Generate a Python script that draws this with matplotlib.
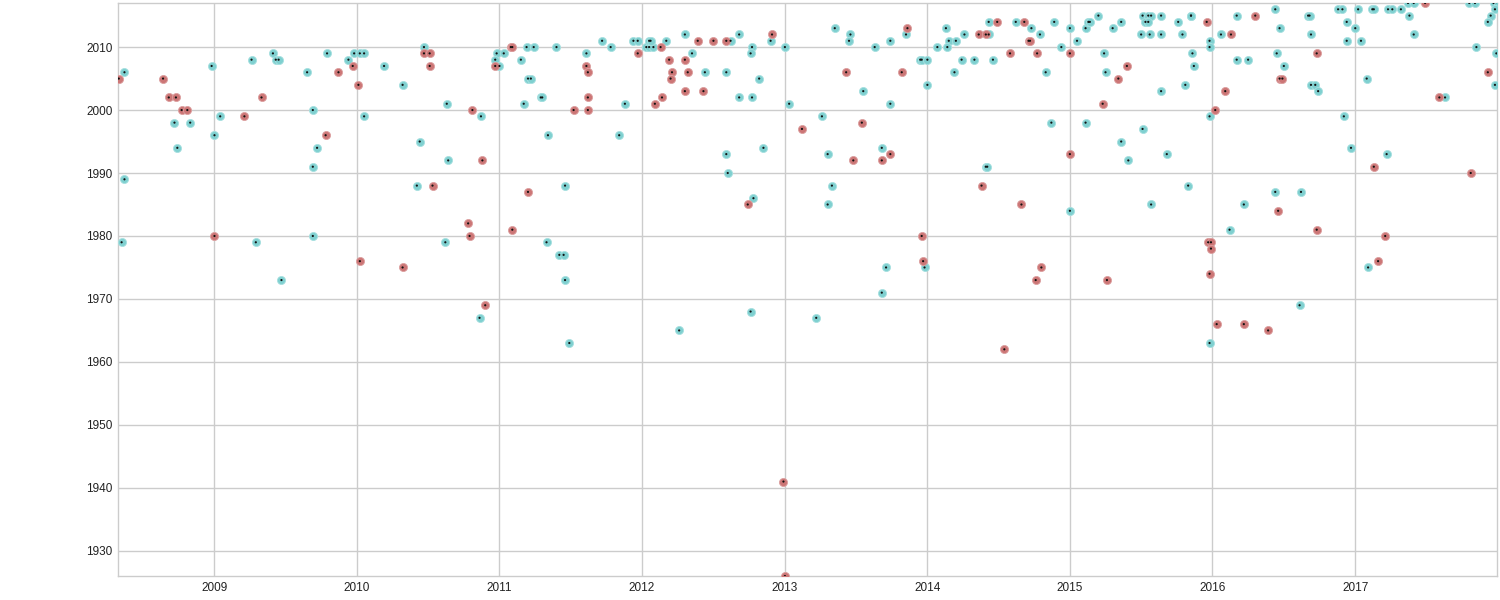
import numpy as np
import pandas as pd
import matplotlib
matplotlib.use("Agg")
import matplotlib.pyplot as plt
import matplotlib.dates as mdates

plt.rcParams['font.family'] = ['Liberation Sans', 'DejaVu Sans']

# decimal date (x) and year value (y)
teal_x = [2008.37, 2008.37, 2008.35, 2008.72, 2008.83, 2008.74, 2008.98, 2009.00, 2009.04, 2009.26,
          2009.29, 2009.41, 2009.43, 2009.45, 2009.47, 2009.65, 2009.69, 2009.72, 2009.69, 2009.69,
          2009.79, 2009.94, 2009.98, 2010.02, 2010.05, 2010.05, 2010.19, 2010.32, 2010.44, 2010.42,
          2010.47, 2010.63, 2010.64, 2010.62, 2010.87, 2010.86, 2010.98, 2011.03, 2010.97, 2011.00,
          2011.19, 2011.24, 2011.40, 2011.15, 2011.20, 2011.22, 2011.29, 2011.30, 2011.17, 2011.34,
          2011.46, 2011.33, 2011.42, 2011.45, 2011.46, 2011.49, 2011.72, 2011.78, 2011.61, 2011.88,
          2011.84, 2011.94, 2011.97, 2012.03, 2012.05, 2012.08, 2012.05, 2012.06, 2012.17, 2012.30,
          2012.35, 2012.44, 2012.62, 2012.68, 2012.59, 2012.68, 2012.77, 2012.77, 2012.76, 2012.82,
          2012.90, 2013.00, 2013.03, 2012.85, 2012.59, 2012.60, 2012.78, 2012.26, 2012.76, 2013.35,
          2013.46, 2013.45, 2013.63, 2013.74, 2013.85, 2013.55, 2013.74, 2013.26, 2013.30, 2013.68,
          2013.33, 2013.30, 2013.95, 2013.96, 2014.00, 2014.00, 2013.98, 2013.71, 2013.68, 2013.22,
          2014.07, 2014.13, 2014.15, 2014.20, 2014.14, 2014.26, 2014.24, 2014.33, 2014.19, 2014.46,
          2014.43, 2014.43, 2014.62, 2014.73, 2014.79, 2014.41, 2014.42, 2014.89, 2014.94, 2015.00,
          2015.05, 2014.83, 2014.87, 2015.00, 2015.11, 2015.13, 2015.14, 2015.20, 2015.30, 2015.36,
          2015.24, 2015.25, 2015.11, 2015.36, 2015.41, 2015.51, 2015.55, 2015.57, 2015.53, 2015.55,
          2015.64, 2015.50, 2015.56, 2015.64, 2015.64, 2015.51, 2015.68, 2015.57, 2015.76, 2015.85,
          2015.85, 2015.79, 2015.86, 2015.87, 2015.81, 2015.83, 2015.98, 2015.98, 2015.98, 2016.06,
          2016.17, 2016.17, 2016.25, 2016.22, 2016.12, 2015.98, 2016.61, 2016.44, 2016.47, 2016.45,
          2016.50, 2016.44, 2016.62, 2016.67, 2016.68, 2016.69, 2016.69, 2016.72, 2016.74, 2016.88,
          2016.91, 2016.94, 2016.94, 2017.00, 2017.02, 2017.04, 2016.92, 2016.97, 2017.08, 2017.22,
          2017.09, 2017.12, 2017.13, 2017.23, 2017.26, 2017.32, 2017.37, 2017.41, 2017.38, 2017.41,
          2017.63, 2017.80, 2017.84, 2017.85, 2017.97, 2018.00, 2017.98, 2017.95, 2017.93, 2017.99,
          2017.98]
teal_y = [2006, 1989, 1979, 1998, 1998, 1994, 2007, 1996, 1999, 2008,
          1979, 2009, 2008, 2008, 1973, 2006, 2000, 1994, 1991, 1980,
          2009, 2008, 2009, 2009, 2009, 1999, 2007, 2004, 1995, 1988,
          2010, 2001, 1992, 1979, 1999, 1967, 2009, 2009, 2008, 2007,
          2010, 2010, 2010, 2008, 2005, 2005, 2002, 2002, 2001, 1996,
          1988, 1979, 1977, 1977, 1973, 1963, 2011, 2010, 2009, 2001,
          1996, 2011, 2011, 2010, 2010, 2010, 2011, 2011, 2011, 2012,
          2009, 2006, 2011, 2012, 2006, 2002, 2002, 2010, 2009, 2005,
          2011, 2010, 2001, 1994, 1993, 1990, 1986, 1965, 1968, 2013,
          2012, 2011, 2010, 2011, 2012, 2003, 2001, 1999, 1993, 1994,
          1988, 1985, 2008, 2008, 2008, 2004, 1975, 1975, 1971, 1967,
          2010, 2013, 2011, 2011, 2010, 2012, 2008, 2008, 2006, 2008,
          2012, 2014, 2014, 2013, 2012, 1991, 1991, 2014, 2010, 2013,
          2011, 2006, 1998, 1984, 2013, 2014, 2014, 2015, 2013, 2014,
          2009, 2006, 1998, 1995, 1992, 2015, 2015, 2015, 2014, 2014,
          2015, 2012, 2012, 2012, 2003, 1997, 1993, 1985, 2014, 2015,
          2015, 2012, 2009, 2007, 2004, 1988, 2011, 2010, 1999, 2012,
          2015, 2008, 2008, 1985, 1981, 1963, 1969, 2016, 2013, 2009,
          2007, 1987, 1987, 2015, 2015, 2012, 2004, 2004, 2003, 2016,
          2016, 2014, 2011, 2013, 2016, 2011, 1999, 1994, 2005, 1993,
          1975, 2016, 2016, 2016, 2016, 2016, 2017, 2017, 2015, 2012,
          2002, 2017, 2017, 2010, 2017, 2017, 2016, 2015, 2014, 2009,
          2004]

red_x = [2008.33, 2008.64, 2008.68, 2008.73, 2008.77, 2008.81, 2009.00, 2009.33, 2009.21, 2009.78,
         2009.87, 2009.97, 2010.01, 2010.02, 2010.32, 2010.53, 2010.47, 2010.51, 2010.51, 2010.81,
         2010.88, 2010.78, 2010.79, 2010.90, 2010.97, 2011.08, 2011.09, 2011.52, 2011.09, 2011.20,
         2011.61, 2011.62, 2011.62, 2011.62, 2011.97, 2012.13, 2012.19, 2012.21, 2012.20, 2012.14,
         2012.09, 2012.30, 2012.32, 2012.30, 2012.39, 2012.43, 2012.50, 2012.59, 2012.91, 2013.12,
         2012.74, 2012.99, 2013.00, 2013.86, 2013.43, 2013.82, 2013.54, 2013.48, 2013.74, 2013.68,
         2013.96, 2013.97, 2014.36, 2014.41, 2014.49, 2014.68, 2014.71, 2014.72, 2014.58, 2014.77,
         2014.38, 2014.66, 2014.76, 2014.80, 2014.54, 2015.00, 2015.00, 2015.40, 2015.34, 2015.23,
         2015.26, 2015.96, 2016.02, 2016.09, 2016.13, 2016.30, 2015.97, 2015.99, 2015.99, 2015.98,
         2016.03, 2016.22, 2016.39, 2016.47, 2016.49, 2016.46, 2016.73, 2016.73, 2017.13, 2017.21,
         2017.16, 2017.49, 2017.59, 2017.81, 2017.93]
red_y = [2005, 2005, 2002, 2002, 2000, 2000, 1980, 2002, 1999, 1996,
         2006, 2007, 2004, 1976, 1975, 1988, 2009, 2009, 2007, 2000,
         1992, 1982, 1980, 1969, 2007, 2010, 2010, 2000, 1981, 1987,
         2007, 2006, 2002, 2000, 2009, 2010, 2008, 2006, 2005, 2002,
         2001, 2008, 2006, 2003, 2011, 2003, 2011, 2011, 2012, 1997,
         1985, 1941, 1926, 2013, 2006, 2006, 1998, 1992, 1993, 1992,
         1980, 1976, 2012, 2012, 2014, 2014, 2011, 2011, 2009, 2009,
         1988, 1985, 1973, 1975, 1962, 2009, 1993, 2007, 2005, 2001,
         1973, 2014, 2000, 2003, 2012, 2015, 1979, 1979, 1978, 1974,
         1966, 1966, 1965, 2005, 2005, 1984, 1981, 2009, 1991, 1980,
         1976, 2017, 2002, 1990, 2006]


def to_dates(dec):
    out = []
    for d in dec:
        yr = int(np.floor(d))
        start = pd.Timestamp(yr, 1, 1)
        end = pd.Timestamp(yr + 1, 1, 1)
        out.append(start + (end - start) * (d - yr))
    return out


teal_dates = to_dates(teal_x)
red_dates = to_dates(red_x)

fig = plt.figure(figsize=(15, 6), dpi=100)
ax = fig.add_axes([0.0787, 0.04, 0.9193, 0.955])

grid_col = "#cccccc"
ax.scatter(teal_dates, teal_y, s=34, color="#7fd0d0", edgecolors="#a8e0e0", linewidths=0.6, zorder=3)
ax.scatter(red_dates, red_y, s=34, color="#cc7676", edgecolors="#dca0a0", linewidths=0.6, zorder=3)
ax.scatter(teal_dates + red_dates, teal_y + red_y, s=2.5, color="#111111", edgecolors="none", zorder=4)

ax.set_xlim(pd.Timestamp("2008-04-29"), pd.Timestamp("2017-12-30"))
ax.set_ylim(1926, 2017)
ax.set_yticks(range(1930, 2011, 10))
ax.xaxis.set_major_locator(mdates.YearLocator())
ax.xaxis.set_major_formatter(mdates.DateFormatter("%Y"))

ax.grid(True, color=grid_col, linewidth=1)
ax.set_axisbelow(True)
for sp in ax.spines.values():
    sp.set_color(grid_col)
    sp.set_linewidth(1)
ax.tick_params(length=0, labelsize=8.5, colors="#222222", pad=4)

fig.savefig("out.png", dpi=100)
plt.close(fig)
